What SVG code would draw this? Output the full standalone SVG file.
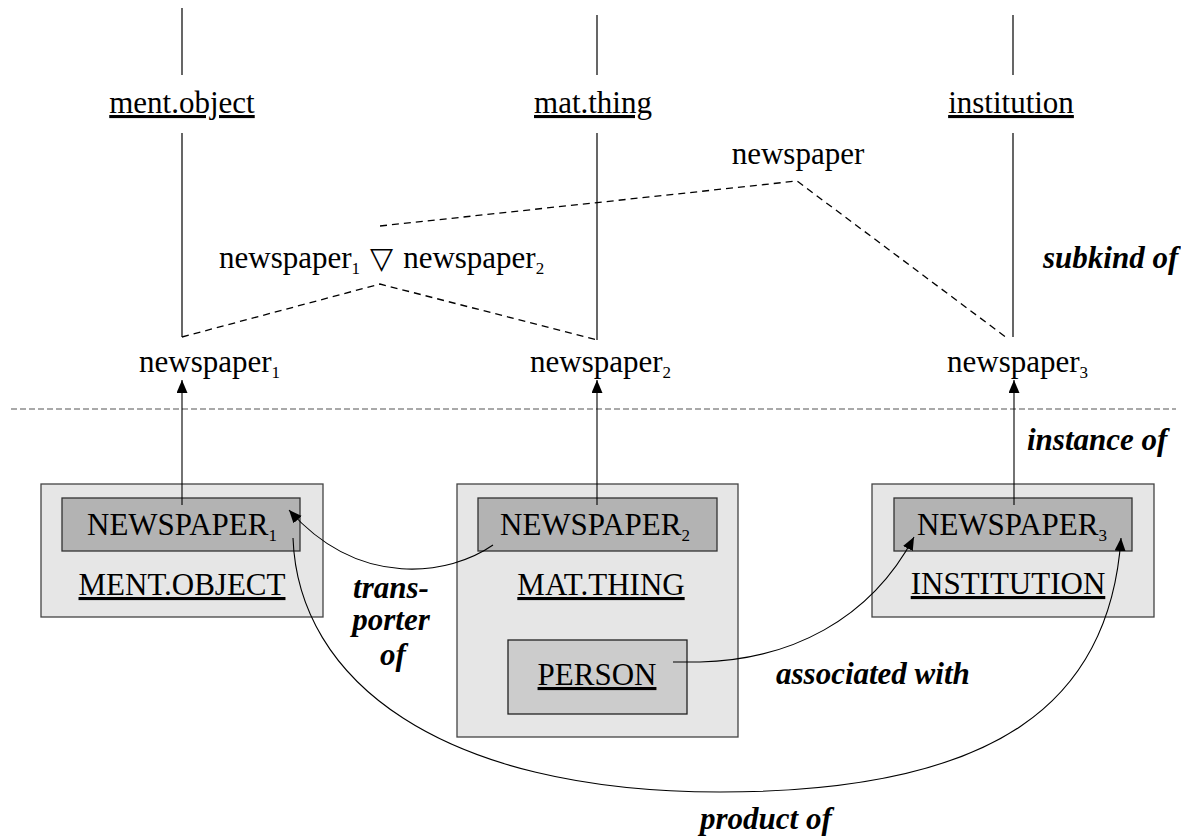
<svg xmlns="http://www.w3.org/2000/svg" width="1181" height="839" viewBox="0 0 1181 839">
<style>
.t{font-family:"Liberation Serif","Times New Roman",serif;font-size:31px;fill:#000}
.b{font-family:"Liberation Serif","Times New Roman",serif;font-size:31px;font-weight:bold;font-style:italic;fill:#000}
.u{text-decoration:underline}
.sub{font-size:17px}
.ln{stroke:#000;stroke-width:1.2;fill:none}
.dash{stroke:#000;stroke-width:1.3;fill:none;stroke-dasharray:7,5}
.conn{stroke:#000;stroke-width:1.1;fill:none}
.outer{fill:#e6e6e6;stroke:#444;stroke-width:1.3}
.inner{fill:#b3b3b3;stroke:#333;stroke-width:1.3}
.person{fill:#cccccc;stroke:#222;stroke-width:1.3}
</style>
<defs>
<marker id="ah" markerUnits="userSpaceOnUse" markerWidth="14" markerHeight="12" refX="13" refY="5.5" orient="auto">
<path d="M0,0 L13,5.5 L0,11 z" fill="#000"/>
</marker>
</defs>
<rect width="1181" height="839" fill="#fff"/>

<g id="lines">
<line class="ln" x1="182" y1="8" x2="182" y2="75"/>
<line class="ln" x1="182" y1="133" x2="182" y2="337"/>
<line class="ln" x1="597" y1="15" x2="597" y2="75"/>
<line class="ln" x1="597" y1="133" x2="597" y2="340"/>
<line class="ln" x1="1013" y1="15" x2="1013" y2="75"/>
<line class="ln" x1="1013" y1="133" x2="1013" y2="337"/>
<polyline class="dash" points="380,226 797,181 1007,338"/>
<polyline class="dash" points="182,337 380,284 597,340"/>
<line x1="11" y1="409" x2="1176" y2="409" stroke="#555" stroke-width="1.2" stroke-dasharray="6,3"/>
</g>

<g id="upper-labels">
<text class="t u" x="182" y="113" text-anchor="middle">ment.object</text>
<text class="t u" x="593" y="113" text-anchor="middle">mat.thing</text>
<text class="t u" x="1011" y="113" text-anchor="middle">institution</text>
<text class="t" x="798" y="164" text-anchor="middle">newspaper</text>
<text class="t" x="219" y="268">newspaper<tspan class="sub" dy="6">1</tspan><tspan dy="-6" dx="10" font-family="DejaVu Sans" font-size="30">▽</tspan><tspan dx="10">newspaper</tspan><tspan class="sub" dy="6">2</tspan></text>
<text class="t" x="139" y="372">newspaper<tspan class="sub" dy="6">1</tspan></text>
<text class="t" x="530" y="372">newspaper<tspan class="sub" dy="6">2</tspan></text>
<text class="t" x="947" y="372">newspaper<tspan class="sub" dy="6">3</tspan></text>
<text class="b" x="1043" y="268">subkind of</text>
<text class="b" x="1027" y="450">instance of</text>
</g>

<g id="node-ment-object">
<rect class="outer" x="41" y="484" width="282" height="133"/>
<rect class="inner" x="62" y="498" width="238" height="53"/>
<text class="t" x="87" y="535">NEWSPAPER<tspan class="sub" dy="6">1</tspan></text>
<text class="t u" x="182" y="595" text-anchor="middle">MENT.OBJECT</text>
</g>

<g id="node-mat-thing">
<rect class="outer" x="457" y="484" width="281" height="253"/>
<rect class="inner" x="478" y="498" width="239" height="53"/>
<text class="t" x="500" y="535">NEWSPAPER<tspan class="sub" dy="6">2</tspan></text>
<text class="t u" x="601" y="595" text-anchor="middle">MAT.THING</text>
</g>

<g id="node-person">
<rect class="person" x="508" y="640" width="179" height="74"/>
<text class="t u" x="597" y="685" text-anchor="middle">PERSON</text>
</g>

<g id="node-institution">
<rect class="outer" x="872" y="484" width="282" height="133"/>
<rect class="inner" x="894" y="498" width="238" height="53"/>
<text class="t" x="917" y="535">NEWSPAPER<tspan class="sub" dy="6">3</tspan></text>
<text class="t u" x="1008" y="594" text-anchor="middle">INSTITUTION</text>
</g>

<g id="connectors">
<line class="conn" x1="182" y1="505" x2="182" y2="380" marker-end="url(#ah)"/>
<line class="conn" x1="597" y1="505" x2="597" y2="380" marker-end="url(#ah)"/>
<line class="conn" x1="1014" y1="505" x2="1014" y2="380" marker-end="url(#ah)"/>
<path class="conn" d="M493,545 C450,575 360,590 289,510" marker-end="url(#ah)"/>
<path class="conn" d="M673,662 L700,662 C790,660 870,620 914,537" marker-end="url(#ah)"/>
<path class="conn" d="M293,538 C298,680 440,792 720,792 C1000,792 1110,700 1121,538" marker-end="url(#ah)"/>
</g>

<g id="edge-labels">
<text class="b" x="391" y="598" text-anchor="middle">trans-</text>
<text class="b" x="391" y="630" text-anchor="middle">porter</text>
<text class="b" x="393" y="665" text-anchor="middle">of</text>
<text class="b" x="776" y="684">associated with</text>
<text class="b" x="700" y="829" font-size="33">product of</text>
</g>
</svg>
